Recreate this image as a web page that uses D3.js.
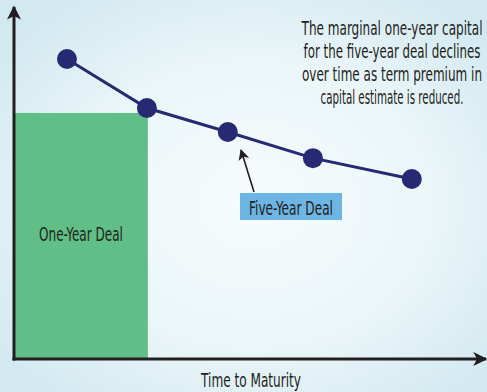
<!DOCTYPE html>
<html>
<head>
<meta charset="utf-8">
<script src="https://cdn.jsdelivr.net/npm/d3@7"></script>
<style>
  body { margin: 0; }
  svg text { font-family: "DejaVu Sans Condensed", "Liberation Sans Narrow", sans-serif; fill: #231f20; }
</style>
</head>
<body>
<svg id="chart" width="487" height="392"></svg>
<script>
// capital path for the five-year deal (arbitrary units, 0-100)
const times = [11.2, 28.1, 45.2, 63.2, 84.1];
const capital = [85, 71.1, 64.3, 56.9, 51];
// one-year deal block
const oneYearEnd = 28.3;
const oneYearCapital = 69.7;

const noteLines = [
  "The marginal one-year capital",
  "for the five-year deal declines",
  "over time as term premium in",
  "capital estimate is reduced."
];
// widths the condensed face takes in the original
const noteWidths = [181, 177, 180, 143];

const W = 487, H = 392;
const x = d3.scaleLinear().domain([0, 100]).range([14, 487]);
const y = d3.scaleLinear().domain([0, 100]).range([359, 6]);

const svg = d3.select("#chart");
const defs = svg.append("defs");

// background glow
const bg = defs.append("radialGradient").attr("id", "bg")
  .attr("cx", "52%").attr("cy", "52%").attr("r", "65%");
bg.append("stop").attr("offset", "0%").attr("stop-color", "#f7fbfd");
bg.append("stop").attr("offset", "55%").attr("stop-color", "#ebf6f9");
bg.append("stop").attr("offset", "100%").attr("stop-color", "#d2e9f0");
svg.append("rect").attr("width", W).attr("height", H).attr("fill", "url(#bg)");

defs.append("marker").attr("id", "tip")
  .attr("viewBox", "0 0 10 10").attr("refX", 9).attr("refY", 5)
  .attr("markerWidth", 15).attr("markerHeight", 11)
  .attr("markerUnits", "userSpaceOnUse")
  .attr("orient", "auto")
  .append("path").attr("d", "M0,0 L10,5 L0,10 L2.5,5 Z").attr("fill", "#231f20");

defs.append("marker").attr("id", "axtip")
  .attr("viewBox", "0 0 10 10").attr("refX", 9).attr("refY", 5)
  .attr("markerWidth", 17).attr("markerHeight", 14)
  .attr("markerUnits", "userSpaceOnUse")
  .attr("orient", "auto")
  .append("path").attr("d", "M0,0 L10,5 L0,10 L2.5,5 Z").attr("fill", "#231f20");

// squeeze text horizontally so it has the narrow look of the original face
function label(sel, txt, cx, base, width) {
  let g = sel.append("g");
  let t = g.append("text")
    .attr("text-anchor", "middle").attr("font-size", 20)
    .text(txt);
  let sx = width / t.node().getComputedTextLength();
  g.attr("transform", "translate(" + cx + "," + base + ") scale(" + sx + ",1)");
  return t;
}

// one-year deal block
svg.append("rect")
  .attr("x", x(0)).attr("y", y(oneYearCapital))
  .attr("width", x(oneYearEnd) - x(0))
  .attr("height", y(0) - y(oneYearCapital))
  .attr("fill", "#5fbf86");

label(svg, "One-Year Deal", 81, 241, 84);

// axes
svg.append("line")
  .attr("x1", x(0)).attr("y1", y(0) + 1.5).attr("x2", x(0)).attr("y2", 7)
  .attr("stroke", "#231f20").attr("stroke-width", 3)
  .attr("marker-end", "url(#axtip)");
svg.append("line")
  .attr("x1", x(0) - 1.5).attr("y1", y(0)).attr("x2", 486).attr("y2", y(0))
  .attr("stroke", "#231f20").attr("stroke-width", 3)
  .attr("marker-end", "url(#axtip)");

label(svg, "Time to Maturity", 251, 387, 100);

// five-year deal line
const pts = times.map((t, i) => [t, capital[i]]);
svg.append("path")
  .datum(pts)
  .attr("d", d3.line().x(d => x(d[0])).y(d => y(d[1])))
  .attr("fill", "none").attr("stroke", "#262a73").attr("stroke-width", 3);

svg.selectAll("circle.pt").data(pts).enter()
  .append("circle").attr("class", "pt")
  .attr("cx", d => x(d[0])).attr("cy", d => y(d[1]))
  .attr("r", 10).attr("fill", "#262a73");

// callout
svg.append("line")
  .attr("x1", 254).attr("y1", 192).attr("x2", 241).attr("y2", 150)
  .attr("stroke", "#231f20").attr("stroke-width", 1.6)
  .attr("marker-end", "url(#tip)");
svg.append("rect")
  .attr("x", 240).attr("y", 193).attr("width", 102).attr("height", 27)
  .attr("fill", "#6db5e4");
label(svg, "Five-Year Deal", 291, 215, 84);

// note
noteLines.forEach((d, i) => label(svg, d, 392, 35 + i * 23, noteWidths[i]));
</script>
</body>
</html>
